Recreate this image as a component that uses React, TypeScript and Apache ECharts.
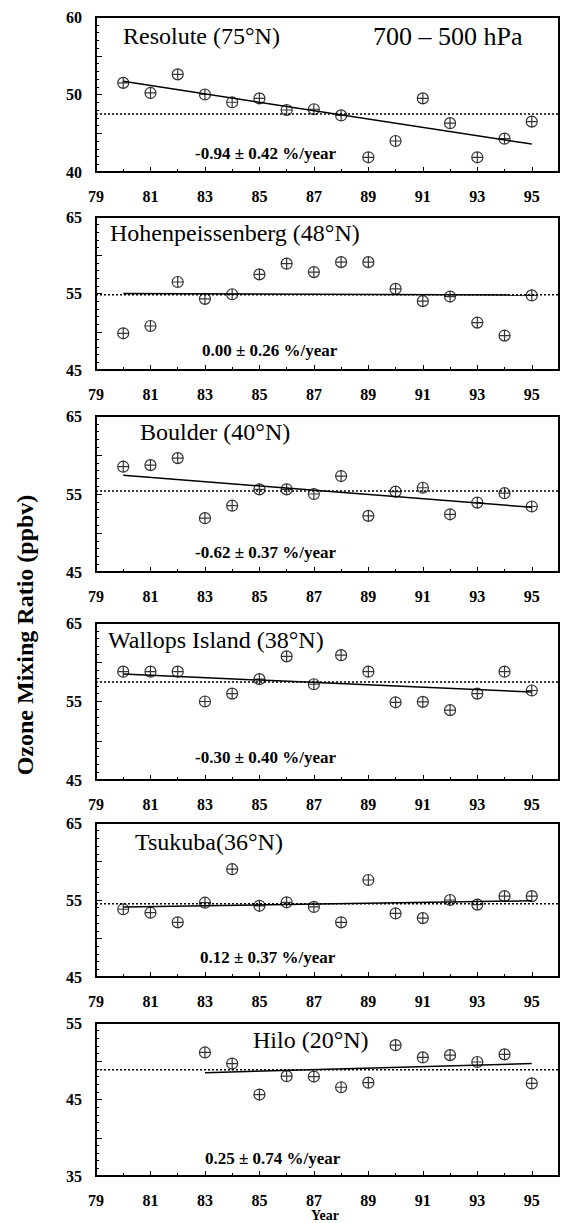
import React, { useEffect, useRef } from "react";
import * as echarts from "echarts";

// ---- data ----
const years = [80, 81, 82, 83, 84, 85, 86, 87, 88, 89, 90, 91, 92, 93, 94, 95];
const hiloYears = [83, 84, 85, 86, 87, 88, 89, 90, 91, 92, 93, 94, 95];

const resolute = [51.5, 50.2, 52.6, 50.0, 49.0, 49.5, 48.0, 48.1, 47.3, 41.9, 44.0, 49.5, 46.3, 41.9, 44.3, 46.5];
const hohen = [49.8, 50.75, 56.5, 54.3, 54.9, 57.5, 58.9, 57.8, 59.1, 59.1, 55.6, 54.0, 54.6, 51.2, 49.5, 54.75];
const boulder = [58.5, 58.7, 59.6, 51.9, 53.5, 55.6, 55.6, 55.0, 57.3, 52.2, 55.3, 55.8, 52.4, 53.9, 55.1, 53.4];
const wallops = [58.8, 58.8, 58.8, 55.0, 56.0, 57.85, 60.75, 57.2, 60.9, 58.8, 54.9, 54.95, 53.9, 56.0, 58.8, 56.4];
const tsukuba = [53.8, 53.35, 52.1, 54.65, 59.0, 54.25, 54.7, 54.1, 52.1, 57.6, 53.25, 52.65, 55.0, 54.4, 55.5, 55.5];
const hilo = [51.15, 49.7, 45.65, 48.05, 48.0, 46.6, 47.2, 52.1, 50.5, 50.8, 49.9, 50.9, 47.1];

const stationNames = [
  "Resolute (75°N)",
  "Hohenpeissenberg (48°N)",
  "Boulder (40°N)",
  "Wallops Island (38°N)",
  "Tsukuba(36°N)",
  "Hilo (20°N)",
];
const trendTexts = [
  "-0.94 ± 0.42 %/year",
  "0.00 ± 0.26 %/year",
  "-0.62 ± 0.37 %/year",
  "-0.30 ± 0.40 %/year",
  "0.12 ± 0.37 %/year",
  "0.25 ± 0.74 %/year",
];
// trend line endpoints [x0, y0, x1, y1]
const trendLines = [
  [80, 51.7, 95, 43.6],
  [80, 55.0, 95, 54.8],
  [80, 57.4, 95, 53.3],
  [80, 58.5, 95, 56.2],
  [80, 54.1, 95, 54.9],
  [83, 48.5, 95, 49.7],
];
const meanValues = [47.5, 54.85, 55.4, 57.5, 54.5, 48.9];
const yMins = [40, 45, 45, 45, 45, 35];
const yMaxs = [60, 65, 65, 65, 65, 55];
const xMin = 79;
const xMax = 96;

// ---- layout ----
const gridTops = [17, 217, 416, 623, 823, 1023];
const gridHeights = [155, 153, 156, 157, 154, 153];
const titlePos = [
  [123, 36],
  [110, 233],
  [140, 432],
  [108, 640],
  [135, 842],
  [253, 1040],
];
const trendTextPos = [
  [195, 153],
  [202, 350],
  [195, 552],
  [195, 757],
  [200, 957],
  [205, 1158],
];

const FONT = "'Liberation Serif', 'Times New Roman', serif";
const MARKER = "path://M5,0A5,5,0,1,1,-5,0A5,5,0,1,1,5,0ZM-5,0L5,0M0,-5L0,5";

export default function App() {
  const ref = useRef<HTMLDivElement>(null);

  useEffect(() => {
    if (!ref.current) return;
    const chart = echarts.init(ref.current, null, { renderer: "svg" });

    const seriesData = [resolute, hohen, boulder, wallops, tsukuba, hilo];
    const xData = [years, years, years, years, years, hiloYears];

    const grids = gridTops.map((t, i) => ({
      left: 96,
      width: 463,
      top: t,
      height: gridHeights[i],
      show: true,
      borderColor: "#000",
      borderWidth: 2,
      backgroundColor: "transparent",
    }));

    const xAxes = gridTops.map((_, i) => ({
      type: "value",
      gridIndex: i,
      min: xMin,
      max: xMax,
      interval: 2,
      axisLine: { show: false },
      axisTick: { show: true, inside: true, length: 5, lineStyle: { color: "#000", width: 1 } },
      minorTick: { show: true, splitNumber: 2, length: 3, lineStyle: { color: "#000", width: 1 } },
      splitLine: { show: false },
      axisLabel: {
        show: true,
        margin: 16,
        color: "#000",
        fontFamily: FONT,
        fontWeight: "bold",
        fontSize: 16,
        showMaxLabel: false,
        formatter: (v: number) => (Math.abs(v % 2) === 1 ? String(v) : ""),
      },
    }));

    const yAxes = gridTops.map((_, i) => ({
      type: "value",
      gridIndex: i,
      min: yMins[i],
      max: yMaxs[i],
      interval: 5,
      axisLine: { show: false },
      axisTick: { show: true, inside: true, length: 6, lineStyle: { color: "#000", width: 1 } },
      minorTick: { show: true, splitNumber: 5, length: 3, lineStyle: { color: "#000", width: 1 } },
      splitLine: { show: false },
      axisLabel: {
        show: true,
        margin: 14,
        color: "#000",
        fontFamily: FONT,
        fontWeight: "bold",
        fontSize: 16,
        formatter: (v: number) => ((v - yMins[i]) % 10 === 0 ? String(v) : ""),
      },
    }));

    const series: any[] = [];
    for (let i = 0; i < 6; i++) {
      series.push({
        type: "line",
        xAxisIndex: i,
        yAxisIndex: i,
        data: [
          [xMin, meanValues[i]],
          [xMax, meanValues[i]],
        ],
        symbol: "none",
        lineStyle: { color: "#000", width: 1.5, type: [2, 2] },
        z: 2,
      });
      const tl = trendLines[i];
      series.push({
        type: "line",
        xAxisIndex: i,
        yAxisIndex: i,
        data: [
          [tl[0], tl[1]],
          [tl[2], tl[3]],
        ],
        symbol: "none",
        lineStyle: { color: "#000", width: 1.5 },
        z: 3,
      });
      series.push({
        type: "scatter",
        xAxisIndex: i,
        yAxisIndex: i,
        data: xData[i].map((x, k) => [x, seriesData[i][k]]),
        symbol: MARKER,
        symbolSize: 11,
        itemStyle: { color: "rgba(255,255,255,0)", borderColor: "#000", borderWidth: 1.2 },
        z: 4,
      });
    }

    const graphics: any[] = [];
    stationNames.forEach((name, i) => {
      graphics.push({
        type: "text",
        x: titlePos[i][0],
        y: titlePos[i][1],
        style: {
          text: name,
          font: `24px ${FONT}`,
          fill: "#000",
          align: "left",
          verticalAlign: "middle",
        },
      });
      graphics.push({
        type: "text",
        x: trendTextPos[i][0],
        y: trendTextPos[i][1],
        style: {
          text: trendTexts[i],
          font: `bold 17px ${FONT}`,
          fill: "#000",
          align: "left",
          verticalAlign: "middle",
        },
      });
    });
    graphics.push({
      type: "text",
      x: 373,
      y: 36,
      style: {
        text: "700 – 500 hPa",
        font: `26px ${FONT}`,
        fill: "#000",
        align: "left",
        verticalAlign: "middle",
      },
    });
    graphics.push({
      type: "text",
      x: 25,
      y: 635,
      rotation: Math.PI / 2,
      style: {
        text: "Ozone Mixing Ratio (ppbv)",
        font: `bold 24px ${FONT}`,
        fill: "#000",
        align: "center",
        verticalAlign: "middle",
      },
    });
    graphics.push({
      type: "text",
      x: 325,
      y: 1215,
      style: {
        text: "Year",
        font: `bold 14px ${FONT}`,
        fill: "#000",
        align: "center",
        verticalAlign: "middle",
      },
    });

    chart.setOption({
      animation: false,
      backgroundColor: "#fff",
      grid: grids,
      xAxis: xAxes,
      yAxis: yAxes,
      series,
      graphic: graphics,
    });

    return () => chart.dispose();
  }, []);

  return (
    <div
      ref={ref}
      style={{ position: "absolute", left: 0, top: 0, width: 561, height: 1223 }}
    />
  );
}
